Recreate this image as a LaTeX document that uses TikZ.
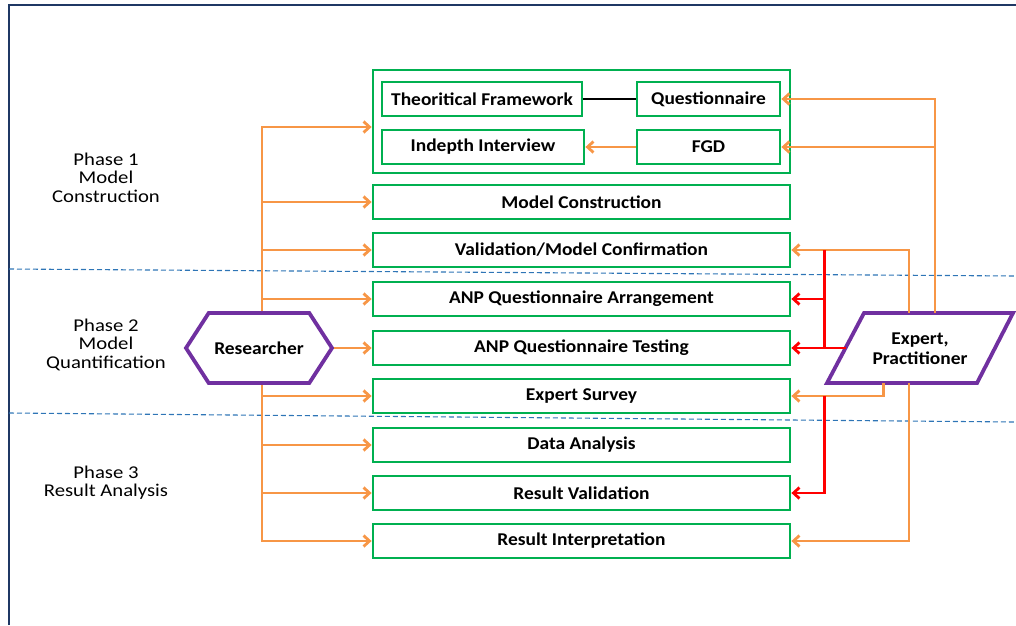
\documentclass[tikz,border=0pt]{standalone}
\usepackage{fontspec}
\setmainfont{Carlito}[FakeStretch=1.08]
\newfontfamily\phasefont{Carlito}[FakeStretch=1.15]
\usepackage{tikz}
\usetikzlibrary{positioning, calc, shapes, arrows.meta}

\definecolor{boxgreen}{HTML}{00B050}
\definecolor{feedorange}{HTML}{F79646}
\definecolor{actorpurple}{HTML}{7030A0}
\definecolor{framenavy}{HTML}{1F3864}
\definecolor{phaseblue}{HTML}{2E75B6}

\tikzset{
	stage/.style={draw=boxgreen, line width=2.8pt, minimum width=417pt, minimum height=34pt, inner sep=0pt, font=\bfseries\fontsize{18}{20}\selectfont},
	actor/.style={draw=actorpurple, line width=3.8pt, inner sep=0pt, align=center, font=\bfseries\fontsize{18}{20}\selectfont},
	phase/.style={align=center, font=\phasefont\fontsize{18}{18.5}\selectfont},
	feed/.style={draw=feedorange, line width=2.8pt, -{Straight Barb[length=6pt,width=11pt]}},
	alarm/.style={draw=red, line width=2.8pt},
	alarmarrow/.style={alarm, -{Straight Barb[length=6pt,width=11pt]}},
	divider/.style={draw=phaseblue, line width=1.1pt, dash pattern=on 5pt off 3pt}
}

\begin{document}
\begin{tikzpicture}[x=1pt, y=-1pt]
		
		\useasboundingbox (0,0) rectangle (1016,625);
		
		%//frame and phase dividers
		\draw[framenavy, line width=2pt] (9,625) -- (9,5) -- (1016,5);
		\draw[divider] (9,269) -- (1016,276);
		\draw[divider] (9,413) -- (1016,422);
		
		\node[phase] (p1) at (106,177.5) {Phase 1\\Model\\Construction};
		\node[phase] (p2) at (106,344.5) {Phase 2\\Model\\Quantification};
		\node[phase] (p3) at (106,482.5) {Phase 3\\Result Analysis};
		
		%//first group
		\node[stage, minimum height=103pt] (group) at (581.5,121.5) {};
		\node[stage, minimum width=200pt] (tf) at (482,99) {Theoritical Framework};
		\node[stage, minimum width=143pt] (q) at (708.5,99) {Questionnaire};
		\node[stage, minimum width=202pt] (ii) at (483,147) {Indepth Interview};
		\node[stage, minimum width=143pt] (fgd) at (708.5,147) {FGD};
		\draw[black, line width=2pt] (tf.east) -- (q.west);
		\draw[feed] (fgd.west) -- (ii.east);
		
		%//stacked stages
		\foreach \name/\y/\txt in {mc/202/Model Construction, val/250/{Validation/Model Confirmation}, arr/299/ANP Questionnaire Arrangement, test/348/ANP Questionnaire Testing, survey/396/Expert Survey, data/445/Data Analysis, rval/493/Result Validation, interp/541/Result Interpretation}
		\node[stage] (\name) at (581.5,\y) {\txt};
		
		\node[actor, signal, signal to=east and west, signal pointer angle=114, minimum width=146pt, minimum height=70pt] (res) at (259,348) {Researcher};
		
		%//expert parallelogram
		\coordinate (etl) at (864,313);
		\coordinate (etr) at (1013,313);
		\coordinate (ebr) at (977,383);
		\coordinate (ebl) at (827,383);
		\draw[actor] (ebl) -- (etl) -- (etr) -- (ebr) -- cycle;
		\node[actor, draw=none] (expert) at (920,349) {Expert,\\Practitioner};
		
		%//researcher connectors
		\coordinate (trunk) at (262,127);
		\draw[feed] (res.north -| trunk) -- (trunk) -- (trunk -| group.west);
		\foreach \b in {mc,val,arr}
		\draw[feed] (\b.west -| trunk) -- (\b.west);
		\draw[feed] (res.east) -- (test.west);
		\draw[feed] (res.south -| trunk) |- (interp.west);
		\foreach \b in {survey,data,rval}
		\draw[feed] (\b.west -| trunk) -- (\b.west);
		
		%//expert connectors
		\coordinate (eq) at ($(etl)!0.477!(etr)$);
		\draw[feed] (eq) |- (q.east);
		\draw[feed] (eq |- fgd.east) -- (fgd.east);
		\draw[feed] ($(etl)!0.302!(etr)$) |- (val.east);
		\coordinate (redtop) at ($(val.east)+(33,0)$);
		\draw[alarm] (redtop) -- (redtop |- test.east);
		\draw[alarmarrow] (redtop |- arr.east) -- (arr.east);
		\draw[alarmarrow] ($(ebl)!0.5!(etl)$) -- (test.east);
		\draw[feed] ($(ebl)!0.375!(ebr)$) |- (survey.east);
		\draw[alarmarrow] (redtop |- survey.east) |- (rval.east);
		\draw[feed] ($(ebl)!0.547!(ebr)$) |- (interp.east);
		
		\end{tikzpicture}
\end{document}
